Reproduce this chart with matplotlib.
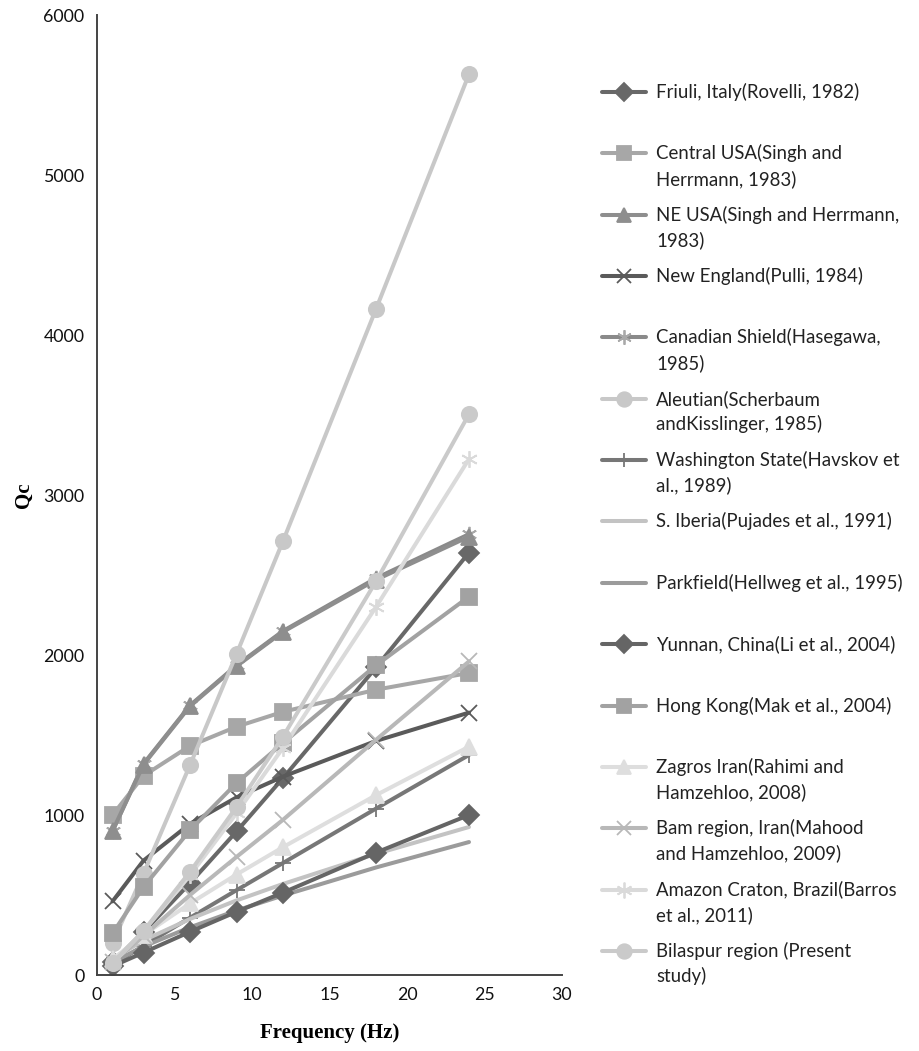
import matplotlib
matplotlib.use("Agg")
import matplotlib.pyplot as plt
from matplotlib.lines import Line2D

freq = [1, 3, 6, 9, 12, 18, 24]

friuli = [80, 268, 574, 897, 1231, 1922, 2640]
central_usa = [1000, 1245, 1432, 1552, 1645, 1783, 1888]
ne_usa = [900, 1315, 1680, 1930, 2145, 2470, 2740]
new_england = [460, 715, 945, 1110, 1240, 1463, 1640]
canadian_shield = [900, 1320, 1685, 1935, 2150, 2480, 2755]
aleutian = [200, 634, 1312, 2006, 2712, 4162, 5630]
washington = [63, 183, 358, 530, 700, 1040, 1375]
s_iberia = [100, 216, 350, 466, 569, 757, 925]
parkfield = [79, 178, 298, 403, 497, 672, 831]
yunnan = [55, 140, 270, 395, 515, 765, 1000]
hong_kong = [260, 550, 905, 1200, 1450, 1935, 2365]
zagros = [99, 250, 447, 628, 799, 1124, 1427]
bam = [80, 245, 500, 738, 970, 1470, 1960]
amazon = [74, 274, 623, 1011, 1420, 2300, 3225]
bilaspur = [75, 275, 645, 1050, 1490, 2460, 3505]

labels = [
    "Friuli, Italy(Rovelli, 1982)",
    "Central USA(Singh and\nHerrmann, 1983)",
    "NE USA(Singh and Herrmann,\n1983)",
    "New England(Pulli, 1984)",
    "Canadian Shield(Hasegawa,\n1985)",
    "Aleutian(Scherbaum\nandKisslinger, 1985)",
    "Washington State(Havskov et\nal., 1989)",
    "S. Iberia(Pujades et al., 1991)",
    "Parkfield(Hellweg et al., 1995)",
    "Yunnan, China(Li et al., 2004)",
    "Hong Kong(Mak et al., 2004)",
    "Zagros Iran(Rahimi and\nHamzehloo, 2008)",
    "Bam region, Iran(Mahood\nand Hamzehloo, 2009)",
    "Amazon Craton, Brazil(Barros\net al., 2011)",
    "Bilaspur region (Present\nstudy)",
]
series = [friuli, central_usa, ne_usa, new_england, canadian_shield, aleutian,
          washington, s_iberia, parkfield, yunnan, hong_kong, zagros, bam,
          amazon, bilaspur]

asterisk = (6, 2, 0)
styles = [
    ("#686868", "D", 10, "#686868"),
    ("#a7a7a7", "s", 11, "#a7a7a7"),
    ("#8e8e8e", "^", 11, "#8e8e8e"),
    ("#5a5a5a", "x", 11, "#5a5a5a"),
    ("#8a8a8a", asterisk, 11, "#a9a9a9"),
    ("#c8c8c8", "o", 11, "#c8c8c8"),
    ("#777777", "+", 11, "#777777"),
    ("#c3c3c3", None, 0, "#c3c3c3"),
    ("#9b9b9b", None, 0, "#9b9b9b"),
    ("#656565", "D", 10, "#656565"),
    ("#a2a2a2", "s", 11, "#a2a2a2"),
    ("#dedede", "^", 11, "#dedede"),
    ("#b8b8b8", "x", 11, "#b8b8b8"),
    ("#dadada", asterisk, 12, "#dadada"),
    ("#cacaca", "o", 11, "#cacaca"),
]

W, H = 919, 1051
fig = plt.figure(figsize=(W / 100, H / 100), dpi=100)
ax = fig.add_axes([97 / W, 1 - 975 / H, 465 / W, 960 / H])

for i, (ys, (c, m, ms, mc)) in enumerate(zip(series, styles)):
    # Canadian Shield sits almost exactly under NE USA
    z = 1.5 if i == 4 else 2 + i * 0.01
    ax.plot(freq, ys, color=c, lw=2.9, marker=m, markersize=ms,
            markerfacecolor=mc, markeredgecolor=mc, markeredgewidth=1.3,
            solid_capstyle="round", solid_joinstyle="round", zorder=z)

ax.set_xlim(0, 30)
ax.set_ylim(0, 6000)
ax.set_xticks(range(0, 31, 5))
ax.set_yticks(range(0, 6001, 1000))
for s in ["top", "right"]:
    ax.spines[s].set_visible(False)
for s in ["left", "bottom"]:
    ax.spines[s].set_color("#444444")
    ax.spines[s].set_linewidth(1.4)
ax.tick_params(length=0, labelsize=12.8, pad=9, labelcolor="#111111")
for t in ax.get_xticklabels() + ax.get_yticklabels():
    t.set_fontfamily("Lato")

fig.text(330 / W, 1 - 1033 / H, "Frequency (Hz)", ha="center", va="center",
         fontfamily="Liberation Serif", fontweight="bold", fontsize=15)
fig.text(24 / W, 1 - 495 / H, "Qc", ha="center", va="center", rotation=90,
         fontfamily="Liberation Serif", fontweight="bold", fontsize=15)

# legend, drawn by hand to get the fixed slot spacing
for i, (lab, (c, m, ms, mc)) in enumerate(zip(labels, styles)):
    y = 92 + i * 61.35
    yf = 1 - y / H
    h = Line2D([602 / W, 624 / W, 646 / W], [yf, yf, yf], transform=fig.transFigure,
               color=c, lw=2.9, marker=m, markersize=ms * 0.95, markevery=[1],
               markerfacecolor=mc, markeredgecolor=mc, markeredgewidth=1.3,
               solid_capstyle="round")
    fig.add_artist(h)
    for j, line in enumerate(lab.split("\n")):
        fig.text(656 / W, 1 - (y + j * 25.5) / H, line, ha="left", va="center",
                 fontfamily="Lato", fontsize=13.4, color="#222222")

fig.savefig("out.png", dpi=100)
